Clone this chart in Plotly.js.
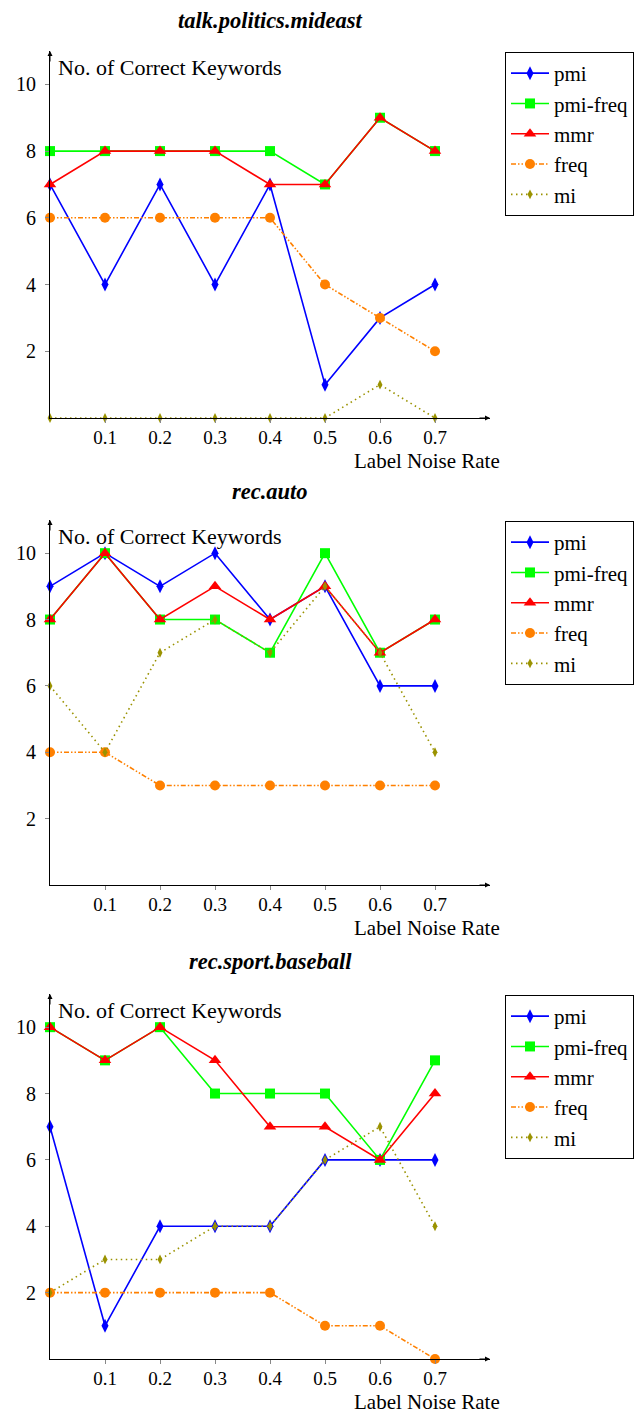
<!DOCTYPE html>
<html>
<head>
<meta charset="utf-8">
<script src="https://cdn.plot.ly/plotly-3.0.1.min.js"></script>
<style>html,body{margin:0;padding:0;background:#fff;}#chart{width:641px;height:1414px;}</style>
</head>
<body>
<div id="chart"></div>
<script>
const noiseRates = [0, 0.1, 0.2, 0.3, 0.4, 0.5, 0.6, 0.7];
const xTickVals = [0.1, 0.2, 0.3, 0.4, 0.5, 0.6, 0.7];
const yTickVals = [2, 4, 6, 8, 10];
const seriesNames = ["pmi", "pmi-freq", "mmr", "freq", "mi"];
const panelTitles = ["talk.politics.mideast", "rec.auto", "rec.sport.baseball"];

// talk.politics.mideast
const mideast_pmi     = [7, 4, 7, 4, 7, 1, 3, 4];
const mideast_pmiFreq = [8, 8, 8, 8, 8, 7, 9, 8];
const mideast_mmr     = [7, 8, 8, 8, 7, 7, 9, 8];
const mideast_freq    = [6, 6, 6, 6, 6, 4, 3, 2];
const mideast_mi      = [0, 0, 0, 0, 0, 0, 1, 0];

// rec.auto
const auto_pmi     = [9, 10, 9, 10, 8, 9, 6, 6];
const auto_pmiFreq = [8, 10, 8, 8, 7, 10, 7, 8];
const auto_mmr     = [8, 10, 8, 9, 8, 9, 7, 8];
const auto_freq    = [4, 4, 3, 3, 3, 3, 3, 3];
const auto_mi      = [6, 4, 7, 8, 7, 9, 7, 4];

// rec.sport.baseball
const baseball_pmi     = [7, 1, 4, 4, 4, 6, 6, 6];
const baseball_pmiFreq = [10, 9, 10, 8, 8, 8, 6, 9];
const baseball_mmr     = [10, 9, 10, 9, 7, 7, 6, 8];
const baseball_freq    = [2, 2, 2, 2, 2, 1, 1, 0];
const baseball_mi      = [2, 3, 3, 4, 4, 6, 7, 4];

const panels = [
  [mideast_pmi, mideast_pmiFreq, mideast_mmr, mideast_freq, mideast_mi],
  [auto_pmi, auto_pmiFreq, auto_mmr, auto_freq, auto_mi],
  [baseball_pmi, baseball_pmiFreq, baseball_mmr, baseball_freq, baseball_mi]
];

const styles = [
  {color: "#0000ff", dash: "solid", symbol: "diamond-tall", size: 10, width: 1.6},
  {color: "#00ff00", dash: "solid", symbol: "square", size: 10, width: 1.6},
  {color: "#ff0000", dash: "solid", symbol: "triangle-up", size: 11, width: 1.6},
  {color: "#ff8000", dash: "5px,2px,1.5px,2px,1.5px,2px", symbol: "circle", size: 10, width: 1.6},
  {color: "#9a9200", dash: "1.5px,3.5px", symbol: "diamond-tall", size: 7, width: 1.6}
];

const W = 641, H = 1414;
const FONT = "Liberation Serif, Times New Roman, serif";
const geom = [[418, 51], [885, 520], [1359, 994]];
const titleY = [20, 491, 961];
const xLeft = 50, xRight = 490;

const data = [];
const layout = {
  width: W, height: H,
  margin: {l: 0, r: 0, t: 0, b: 0, autoexpand: false},
  paper_bgcolor: "#fff", plot_bgcolor: "#fff",
  font: {family: FONT, size: 20, color: "#000"},
  annotations: [],
  showlegend: true
};

panels.forEach((series, p) => {
  const sfx = p === 0 ? "" : String(p + 1);
  const xa = "x" + sfx, ya = "y" + sfx;
  const legendId = "legend" + sfx;
  series.forEach((vals, i) => {
    const s = styles[i];
    data.push({
      type: "scatter", mode: "lines+markers",
      x: noiseRates, y: vals, name: seriesNames[i],
      xaxis: xa, yaxis: ya, legend: legendId,
      cliponaxis: false,
      line: {color: s.color, width: s.width, dash: s.dash},
      marker: {color: s.color, symbol: s.symbol, size: s.size, line: {width: 0}}
    });
  });
  const [bpx, tpx] = geom[p];
  const axisCommon = {
    showgrid: false, zeroline: false, showline: true, linecolor: "#000", linewidth: 1,
    ticks: "outside", ticklen: 4, tickcolor: "#888", tickwidth: 1,
    tickfont: {family: FONT, size: 20, color: "#000"}, fixedrange: true
  };
  layout["xaxis" + sfx] = Object.assign({}, axisCommon, {
    domain: [xLeft / W, xRight / W], range: [0, 0.8],
    tickvals: xTickVals, ticktext: xTickVals.map(v => v.toFixed(1)),
    tickfont: {family: FONT, size: 19, color: "#000"},
    ticklabelstandoff: -2,
    anchor: ya
  });
  layout["yaxis" + sfx] = Object.assign({}, axisCommon, {
    domain: [1 - bpx / H, 1 - tpx / H], range: [0, 11],
    tickvals: yTickVals, ticktext: yTickVals.map(String),
    ticklabelstandoff: 5,
    anchor: xa
  });
  layout[legendId] = {
    x: 505 / W, y: 1 - (tpx + 1) / H, xanchor: "left", yanchor: "top",
    bordercolor: "#000", borderwidth: 1, bgcolor: "#fff",
    font: {family: FONT, size: 21, color: "#000"},
    itemwidth: 38, tracegroupgap: 0
  };
  layout.annotations.push({
    xref: "paper", yref: "paper", x: 270 / W, y: 1 - titleY[p] / H,
    xanchor: "center", yanchor: "middle", showarrow: false,
    text: "<b><i>" + panelTitles[p] + "</i></b>",
    font: {family: FONT, size: 22.5, color: "#000"}
  });
  layout.annotations.push({
    xref: xa, yref: ya, x: 0, y: 10.5, xanchor: "left", yanchor: "middle",
    xshift: 6, showarrow: false, text: "No. of Correct Keywords",
    font: {family: FONT, size: 22, color: "#000"}
  });
  layout.annotations.push({
    xref: xa, yref: ya, x: 0.8, y: 0, xanchor: "right", yanchor: "middle",
    xshift: 12, yshift: -43, showarrow: false, text: "Label Noise Rate",
    font: {family: FONT, size: 21, color: "#000"}
  });
  layout.annotations.push({
    xref: xa, yref: ya, x: 0.8, y: 0, ax: -12, ay: 0, showarrow: true,
    arrowhead: 2, arrowsize: 1, arrowwidth: 1, arrowcolor: "#000", text: ""
  });
  layout.annotations.push({
    xref: xa, yref: ya, x: 0, y: 11, ax: 0, ay: 12, showarrow: true,
    arrowhead: 2, arrowsize: 1, arrowwidth: 1, arrowcolor: "#000", text: ""
  });
});

Plotly.newPlot("chart", data, layout, {displayModeBar: false, staticPlot: true});
</script>
</body>
</html>
